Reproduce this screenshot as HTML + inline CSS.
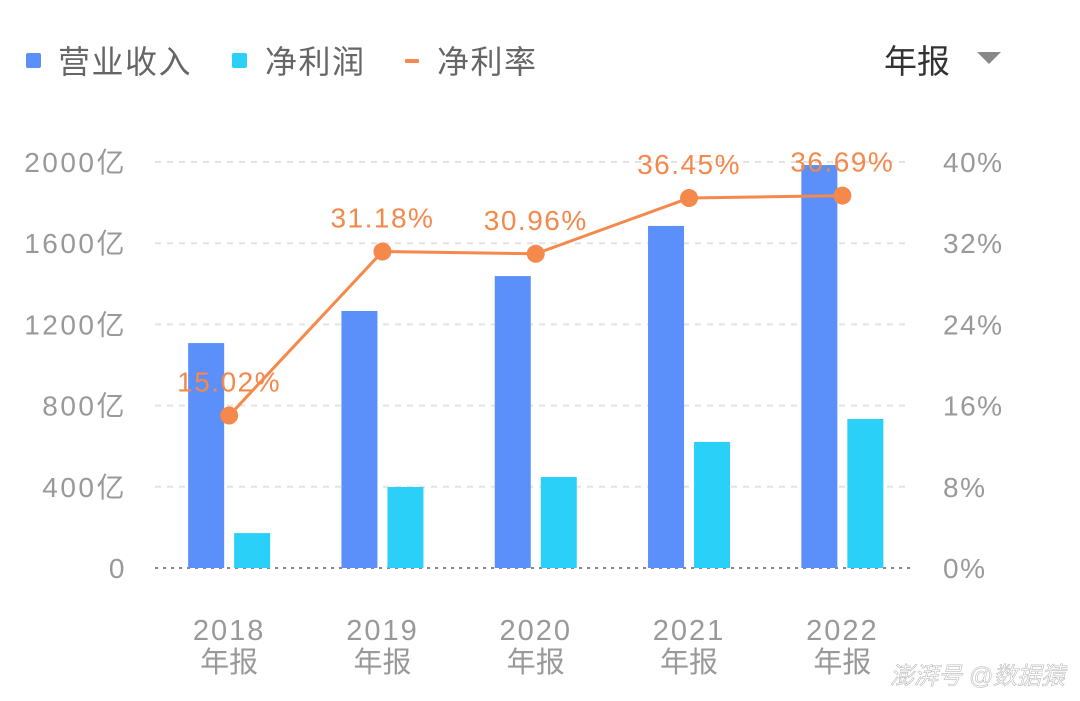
<!DOCTYPE html>
<html><head><meta charset="utf-8"><style>
html,body{margin:0;padding:0;background:#fff;}
body{width:1080px;height:696px;overflow:hidden;font-family:"Liberation Sans","Noto Sans CJK SC",sans-serif;}
</style></head><body>
<svg id="chart" width="1080" height="696" xmlns="http://www.w3.org/2000/svg" font-family="Liberation Sans, Noto Sans CJK SC, sans-serif">
  <g>
    <g>
      <rect x="26" y="53" width="15" height="15" rx="2" fill="#5b8ff9"/>
      <text x="58" y="73" font-size="32" fill="#666" letter-spacing="1.5">营业收入</text>
    </g>
    <g>
      <rect x="232" y="53" width="15" height="15" rx="2" fill="#2ad0f8"/>
      <text x="265" y="73" font-size="32" fill="#666" letter-spacing="1.5">净利润</text>
    </g>
    <g>
      <rect x="405" y="59" width="14" height="4" rx="1" fill="#f5884b"/>
      <text x="437" y="73" font-size="32" fill="#666" letter-spacing="1.5">净利率</text>
    </g>
  </g>
  <g>
    <text x="884" y="73" font-size="33" fill="#333">年报</text>
    <path d="M977 52 L1001 52 L989 64 Z" fill="#888"/>
  </g>
  <g id="grid"></g>
  <g id="bars"></g>
  <g id="line"></g>
  <g id="axes"></g>
  <text x="1065" y="684" text-anchor="end" font-size="24" fill="#fff" stroke="#bbb" stroke-width="0.6" font-style="italic">澎湃号 @数据猿</text>
</svg>
<script>
const categories = ["2018","2019","2020","2021","2022"];
const revenue = [1108, 1266, 1438, 1685, 1985];
const netProfit = [172, 399, 448, 621, 734];
const netMargin = [15.02, 31.18, 30.96, 36.45, 36.69];
const leftTicks = [0, 400, 800, 1200, 1600, 2000];
const rightTicks = [0, 8, 16, 24, 32, 40];

const NS = "http://www.w3.org/2000/svg";
const x0 = 152.5, bandW = 153.3, yBase = 568, yTop = 162;
const yL = v => yBase - v / 2000 * (yBase - yTop);
const yR = v => yBase - v / 40 * (yBase - yTop);
const xc = i => x0 + bandW * (i + 0.5);
function mk(tag, attrs, parent, txt) {
  const e = document.createElementNS(NS, tag);
  for (const k in attrs) e.setAttribute(k, attrs[k]);
  if (txt !== undefined) e.textContent = txt;
  parent.appendChild(e); return e;
}
const grid = document.getElementById('grid'), axes = document.getElementById('axes');
leftTicks.forEach((t, i) => {
  const y = yL(t);
  const g = mk('line', {x1: 155, x2: 910, y1: y, y2: y, stroke: i === 0 ? '#888' : '#e3e3e3', 'stroke-width': 2, 'stroke-dasharray': i === 0 ? '3,5' : '6,6'}, grid);
  
  
  const l = mk('text', {x: 127, y: y + 10, 'text-anchor': 'end', 'font-size': 28, 'letter-spacing': 2.5, fill: '#999'}, axes, t === 0 ? '0' : t + '亿');
  
  
});
rightTicks.forEach(t => {
  const r = mk('text', {x: 943, y: yR(t) + 10, 'font-size': 28, 'letter-spacing': 1.5, fill: '#999'}, axes, t + '%');
  
  
});
const bars = document.getElementById('bars');
categories.forEach((c, i) => {
  const cx = xc(i);
  const b1 = mk('rect', {x: cx - 41, y: yL(revenue[i]), width: 36, height: yBase - yL(revenue[i]), fill: '#5b8ff9'}, bars);
  
  
  const b2 = mk('rect', {x: cx + 5, y: yL(netProfit[i]), width: 36, height: yBase - yL(netProfit[i]), fill: '#2ad0f8'}, bars);
  
  
  const t1 = mk('text', {x: cx, y: 640, 'text-anchor': 'middle', 'font-size': 29, 'letter-spacing': 2, fill: '#999'}, axes, c);
  
  
  const t2 = mk('text', {x: cx, y: 672, 'text-anchor': 'middle', 'font-size': 29, fill: '#999'}, axes, '年报');
  
  
});
const lineG = document.getElementById('line');
const pts = netMargin.map((v, i) => xc(i) + ',' + yR(v)).join(' ');
const pl = mk('polyline', {points: pts, fill: 'none', stroke: '#f5884b', 'stroke-width': 3}, lineG);


netMargin.forEach((v, i) => {
  const p = mk('circle', {cx: xc(i), cy: yR(v), r: 9, fill: '#f5884b'}, lineG);
  
  
  const l = mk('text', {x: xc(i), y: yR(v) - 24, 'text-anchor': 'middle', 'font-size': 28, 'letter-spacing': 1.5, fill: '#f5884b'}, lineG, v.toFixed(2) + '%');
  
  
});
</script>
</body></html>
